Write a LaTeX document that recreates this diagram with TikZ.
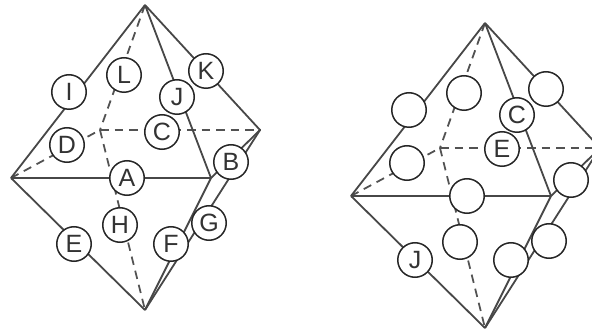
\documentclass[tikz,border=0pt]{standalone}
\usepackage{fontspec}
\setmainfont{Liberation Sans}
\tikzset{
  edge/.style={draw=black!72,line width=1.8pt},
  hidden/.style={draw=black!68,line width=1.8pt,dash pattern=on 8.5pt off 6pt},
  ball/.style={circle,draw=black!85,line width=1.5pt,fill=white,minimum size=34.5pt,inner sep=0pt,text=black!80,font=\fontsize{25}{25}\selectfont}
}
\begin{document}
\begin{tikzpicture}[x=1pt,y=-1pt]
\useasboundingbox (0,0) rectangle (592,331);
\clip (0,0) rectangle (592,331);
% left figure
\coordinate (lt) at (145,5);
\coordinate (ll) at (11,178);
\coordinate (lb) at (145,310);
\coordinate (lr) at (260,130);
\coordinate (lf) at (211,178);
\coordinate (lk) at (100,130);
\draw[hidden] (lt) -- (lk);
\draw[hidden] (lk) -- (lb);
\draw[hidden] (ll) -- (lk);
\draw[hidden] (lk) -- (lr);
\draw[edge] (lt) -- (ll);
\draw[edge] (ll) -- (lb);
\draw[edge] (ll) -- (lf);
\draw[edge] (lt) -- (lf);
\draw[edge] (lt) -- (lr);
\draw[edge] (lf) -- (lb);
\draw[edge] (lb) -- (lr);
\draw[edge] (lf) -- (lr);
\node[ball] (nI) at (69,92) {I};
\node[ball] (nL) at (124,75) {L};
\node[ball] (nK) at (206,71) {K};
\node[ball] (nJ) at (177,97) {J};
\node[ball] (nC) at (162,132) {C};
\node[ball] (nD) at (67,145) {D};
\node[ball] (nA) at (127,178) {A};
\node[ball] (nB) at (231,162) {B};
\node[ball] (nH) at (120,225) {H};
\node[ball] (nG) at (209,223) {G};
\node[ball] (nF) at (171,244) {F};
\node[ball] (nE) at (74,244) {E};
% right figure
\coordinate (rt) at (485,23);
\coordinate (rl) at (351,196);
\coordinate (rb) at (485,328);
\coordinate (rr) at (600,148);
\coordinate (rf) at (551,196);
\coordinate (rk) at (440,148);
\draw[hidden] (rt) -- (rk);
\draw[hidden] (rk) -- (rb);
\draw[hidden] (rl) -- (rk);
\draw[hidden] (rk) -- (rr);
\draw[edge] (rt) -- (rl);
\draw[edge] (rl) -- (rb);
\draw[edge] (rl) -- (rf);
\draw[edge] (rt) -- (rf);
\draw[edge] (rt) -- (rr);
\draw[edge] (rf) -- (rb);
\draw[edge] (rb) -- (rr);
\draw[edge] (rf) -- (rr);
\node[ball] (m1) at (409,110) {};
\node[ball] (m2) at (464,93) {};
\node[ball] (m3) at (546,89) {};
\node[ball] (m4) at (517,115) {C};
\node[ball] (m5) at (502,149) {E};
\node[ball] (m6) at (407,163) {};
\node[ball] (m7) at (467,196) {};
\node[ball] (m8) at (571,180) {};
\node[ball] (m9) at (460,242) {};
\node[ball] (m10) at (549,241) {};
\node[ball] (m11) at (511,260) {};
\node[ball] (m12) at (415,260) {J};
\end{tikzpicture}
\end{document}
